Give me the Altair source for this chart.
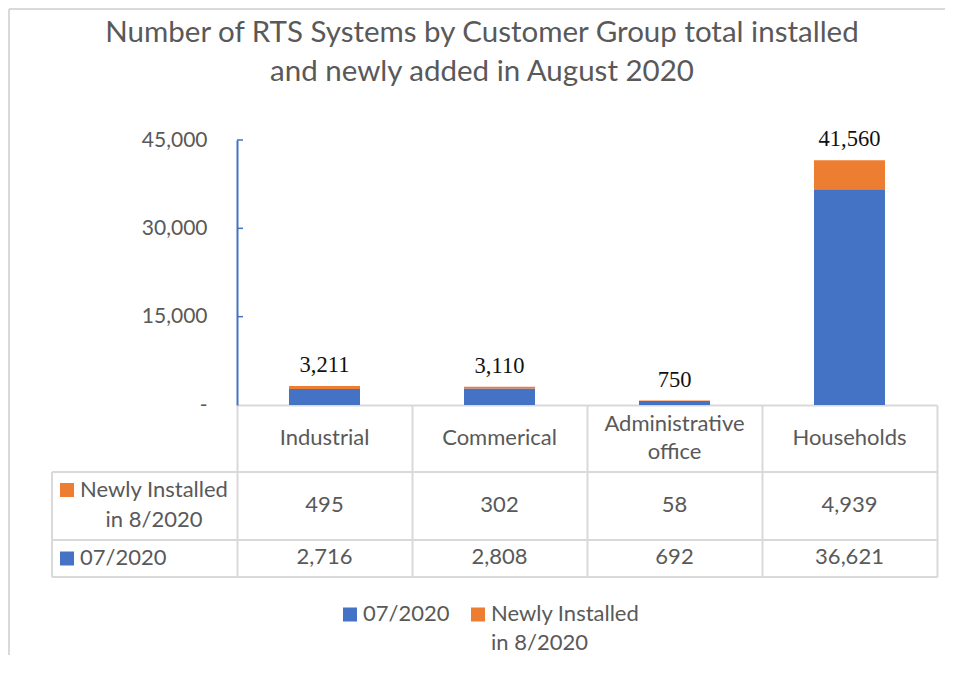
import altair as alt
import pandas as pd

# ---------------- data ----------------
categories = ["Industrial", "Commerical", "Administrative office", "Households"]
series_names = ["07/2020", "Newly Installed in 8/2020"]
base_values = [2716, 2808, 692, 36621]      # 07/2020
new_values = [495, 302, 58, 4939]           # Newly installed in 8/2020
y_ticks = [0, 15000, 30000, 45000]
y_max = 45000
title_lines = ["Number of RTS Systems by Customer Group total installed",
               "and newly added in August 2020"]
newly_lines = ["Newly Installed", "in 8/2020"]

# ---------------- style ----------------
BLUE = "#4472C4"
ORANGE = "#ED7D31"
LINE = "#D9D9D9"
TXT = "#595959"
SANS = "Lato"
SERIF = "Liberation Serif"
FS = 22

records = []
for cat, b, n in zip(categories, base_values, new_values):
    records.append(dict(category=cat, series=series_names[0], value=b, stack_order=0))
    records.append(dict(category=cat, series=series_names[1], value=n, stack_order=1))
df = pd.DataFrame(records)
cat_df = pd.DataFrame({"category": categories})
series_df = pd.DataFrame({"series": series_names})
tick_df = pd.DataFrame({"t": [v for v in y_ticks if v > 0]})
one = pd.DataFrame({"k": [0]})

color_scale = alt.Scale(domain=series_names, range=[BLUE, ORANGE])

x_enc = alt.X(
    "category:N", title=None,
    scale=alt.Scale(domain=categories, paddingInner=0, paddingOuter=0),
    axis=alt.Axis(labels=False, domainColor=LINE, domainWidth=2, ticks=True,
                  tickBand="extent", tickSize=172, tickColor=LINE, tickWidth=2,
                  grid=False, title=None),
)
y_axis = alt.Axis(values=y_ticks, ticks=False, grid=False, domainColor=BLUE,
                  domainWidth=2, labelPadding=30, title=None,
                  labelFont=SANS, labelFontSize=21, labelColor=TXT,
                  labelExpr="datum.value == 0 ? '-\u00a0\u00a0' : format(datum.value, ',')")
y_scale = alt.Scale(domain=[0, y_max], nice=False, zero=True)

bars = alt.Chart(df).mark_bar(size=71).encode(
    x=x_enc,
    y=alt.Y("value:Q", stack="zero", scale=y_scale, axis=y_axis, title=None),
    color=alt.Color("series:N", scale=color_scale, legend=None),
    order=alt.Order("stack_order:Q", sort="ascending"),
)

totals = alt.Chart(df).transform_aggregate(
    total="sum(value)", groupby=["category"]
).mark_text(baseline="alphabetic", dy=-14, font=SERIF, fontSize=22.5, color="#111111").encode(
    x=x_enc,
    y=alt.Y("total:Q", scale=y_scale, axis=y_axis, title=None),
    text=alt.Text("total:Q", format=","),
)

inner_ticks = alt.Chart(tick_df).mark_rule(color=BLUE, strokeWidth=1.5).encode(
    y=alt.Y("t:Q", scale=y_scale, axis=y_axis, title=None),
    x=alt.value(0), x2=alt.value(6),
)

# ---- data table ----
headers_single = alt.Chart(cat_df).transform_filter(
    "length(datum.category) <= 14"
).mark_text(baseline="middle", font=SANS, fontSize=FS, color=TXT).encode(
    x=x_enc, y=alt.value(298), text="category:N"
)
headers_wrapped = alt.Chart(cat_df).transform_filter(
    "length(datum.category) > 14"
).transform_calculate(
    lab="split(datum.category, ' ')"
).mark_text(baseline="middle", lineHeight=28, font=SANS, fontSize=FS, color=TXT).encode(
    x=x_enc, y=alt.value(284), text="lab:N"
)

row_y = {series_names[1]: 365, series_names[0]: 417}
table_vals = [
    alt.Chart(df).transform_filter(alt.datum.series == s).mark_text(
        baseline="middle", font=SANS, fontSize=FS, color=TXT
    ).encode(x=x_enc, y=alt.value(row_y[s]), text=alt.Text("value:Q", format=","))
    for s in series_names
]

h_lines = [
    alt.Chart(one).mark_rule(color=LINE, strokeWidth=2).encode(
        x=alt.value(-185), x2=alt.value(700), y=alt.value(yy))
    for yy in (332, 400, 437)
]
v_line = alt.Chart(one).mark_rule(color=LINE, strokeWidth=2).encode(
    x=alt.value(-185), y=alt.value(332), y2=alt.value(437))

key_y = {series_names[1]: 350, series_names[0]: 418.5}
row_keys = [
    alt.Chart(series_df).transform_filter(alt.datum.series == s).mark_square(
        size=196, opacity=1, strokeWidth=0
    ).encode(x=alt.value(-170), y=alt.value(key_y[s]),
             color=alt.Color("series:N", scale=color_scale, legend=None))
    for s in series_names
]
row_head_new = alt.Chart(one).mark_text(
    text=newly_lines, align="center", baseline="middle", lineHeight=30,
    font=SANS, fontSize=FS, color=TXT
).encode(x=alt.value(-83), y=alt.value(349.5))
row_head_old = alt.Chart(one).mark_text(
    text=series_names[0], align="left", baseline="middle",
    font=SANS, fontSize=FS, color=TXT
).encode(x=alt.value(-157), y=alt.value(417.5))

# ---- bottom legend ----
leg_x = {series_names[0]: 113, series_names[1]: 241}
leg_keys = [
    alt.Chart(series_df).transform_filter(alt.datum.series == s).mark_square(
        size=196, opacity=1, strokeWidth=0
    ).encode(x=alt.value(leg_x[s]), y=alt.value(474.5),
             color=alt.Color("series:N", scale=color_scale, legend=None))
    for s in series_names
]
leg_old = alt.Chart(one).mark_text(
    text=series_names[0], align="left", baseline="middle",
    font=SANS, fontSize=FS, color=TXT
).encode(x=alt.value(126), y=alt.value(473.5))
leg_new = alt.Chart(one).mark_text(
    text=newly_lines, align="left", baseline="middle", lineHeight=29,
    font=SANS, fontSize=FS, color=TXT
).encode(x=alt.value(254), y=alt.value(473.5))

# ---- title and chart-area border ----
title = alt.Chart(one).mark_text(
    text=title_lines, align="center", baseline="middle", lineHeight=39,
    font=SANS, fontSize=29.5, color=TXT
).encode(x=alt.value(245), y=alt.value(-107))

border_left = alt.Chart(one).mark_rule(color=LINE, strokeWidth=2).encode(
    x=alt.value(-228), y=alt.value(-131), y2=alt.value(520))
border_top = alt.Chart(one).mark_rule(color=LINE, strokeWidth=2).encode(
    x=alt.value(-228), x2=alt.value(710), y=alt.value(-131))

chart = alt.layer(
    border_left, border_top, title,
    *h_lines, v_line,
    bars, inner_ticks, totals, headers_single, headers_wrapped, *table_vals,
    *row_keys, row_head_new, row_head_old,
    *leg_keys, leg_old, leg_new,
).properties(
    width=700, height=265,
    autosize=alt.AutoSizeParams(type="none"),
    padding={"left": 229, "top": 132, "right": 8, "bottom": 250},
).configure(background="white").configure_view(strokeWidth=0, stroke="transparent")

chart.save("out.html", embed_options={"renderer": "svg", "actions": False})
